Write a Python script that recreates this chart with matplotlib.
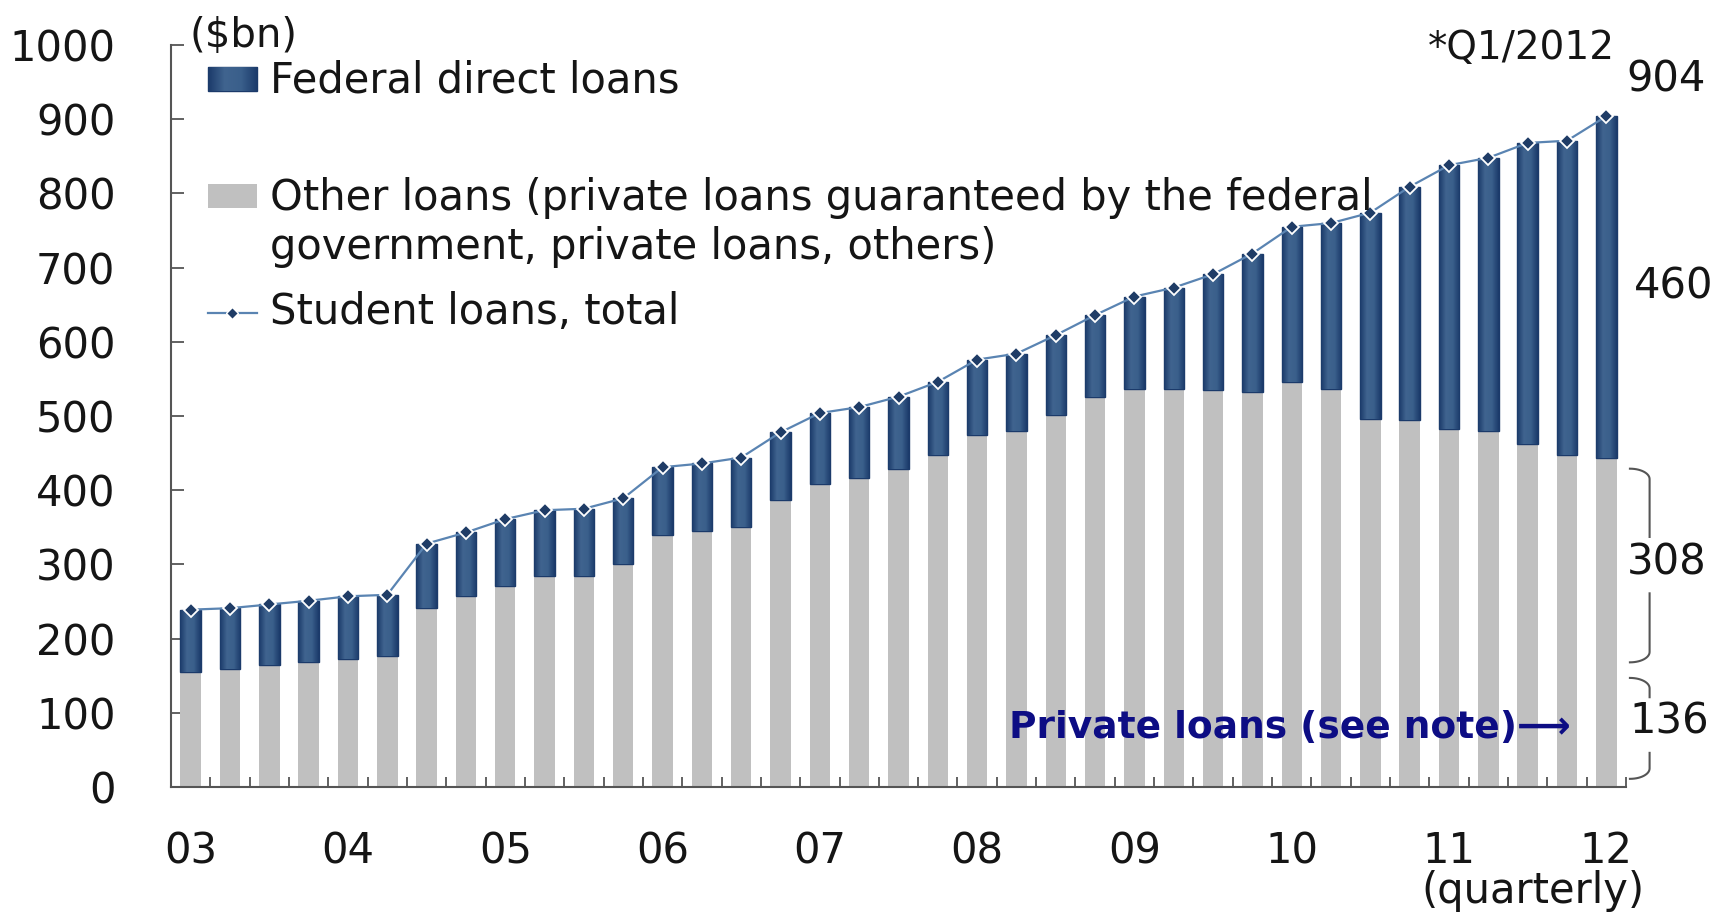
import matplotlib.pyplot as plt
import numpy as np
from matplotlib.patches import Rectangle
from matplotlib.lines import Line2D
from matplotlib.colors import LinearSegmentedColormap

# quarterly, Q1 2003 .. Q1 2012 ($bn)
year_labels = ["03", "04", "05", "06", "07", "08", "09", "10", "11", "12"]
other_loans = [155, 159, 164, 168, 172, 176, 241, 257, 271, 284, 284, 300,
               340, 345, 350, 387, 409, 416, 428, 447, 474, 480, 501, 526,
               537, 537, 535, 533, 546, 537, 496, 495, 482, 480, 462, 447, 444]
federal_direct = [84, 82, 82, 83, 85, 83, 87, 86, 90, 89, 91, 89,
                  91, 91, 94, 91, 95, 96, 98, 99, 102, 104, 108, 110,
                  124, 136, 156, 186, 209, 223, 278, 314, 356, 368, 406, 424, 460]
student_total = [239, 241, 246, 251, 257, 259, 328, 343, 361, 373, 375, 389,
                 431, 436, 444, 478, 504, 512, 526, 546, 576, 584, 609, 636,
                 661, 673, 691, 719, 755, 760, 774, 809, 838, 848, 868, 871, 904]
# split of the other loans in Q1/2012
guaranteed_2012 = 308
private_2012 = 136

plt.rcParams['font.family'] = ['DejaVu Sans']

blue = "#34598a"
blue_edge = "#1b3a6a"
gray = "#c0c0c0"
line_col = "#5a84b2"
txt = "#151515"
fs = 30

# bars have a light centre, dark sides
bar_cmap = LinearSegmentedColormap.from_list(
    "barfill", ["#1b3a6a", "#40648f", "#3a5f8b", "#1b3a6a"])
grad = np.linspace(0, 1, 64)[None, :]

fig = plt.figure(figsize=(17.29, 9.14), dpi=100)
ax = fig.add_axes([171/1729, 1-787/914, 1455/1729, 742/914])

x = np.arange(len(other_loans))
ax.bar(x, other_loans, width=0.52, color=gray, linewidth=0, zorder=2)
fed_bars = ax.bar(x, federal_direct, width=0.52, bottom=other_loans, color=blue,
                  edgecolor=blue_edge, linewidth=1.0, zorder=2)
for p in fed_bars:
    x0, y0 = p.get_xy()
    im = ax.imshow(grad, cmap=bar_cmap, aspect="auto", zorder=2.5,
                   extent=[x0, x0 + p.get_width(), y0, y0 + p.get_height()])
    im.set_clip_path(p)

ax.plot(x, student_total, color=line_col, lw=1.6, marker="D", ms=7,
        mfc="#1f3c66", mec="white", mew=1.3, zorder=4)

ax.set_xlim(-0.5, len(x) - 0.5)
ax.set_ylim(0, 1000)
for s in ["top", "right"]:
    ax.spines[s].set_visible(False)
for s in ["left", "bottom"]:
    ax.spines[s].set_color("#555555")
    ax.spines[s].set_linewidth(1.5)

ax.set_yticks(range(0, 1001, 100))
ax.tick_params(axis="y", direction="in", length=9, width=1.3, color="#555555",
               labelsize=fs, pad=40, labelcolor=txt)
ax.set_xticks(range(0, len(x), 4))
ax.set_xticklabels(year_labels)
ax.set_xticks(np.arange(0.5, len(x), 1), minor=True)
ax.tick_params(axis="x", which="major", length=0, labelsize=fs, pad=31, labelcolor=txt)
ax.tick_params(axis="x", which="minor", direction="in", length=7, width=1.3, color="#555555")

# legend drawn by hand
ax.text(-0.02, 1012, "($bn)", fontsize=29, color=txt, ha="left", va="center", clip_on=False)
leg_fed = Rectangle((0.43, 938), 1.25, 32, facecolor=blue, edgecolor=blue_edge, lw=1.0, zorder=5)
ax.add_patch(leg_fed)
im = ax.imshow(grad, cmap=bar_cmap, aspect="auto", zorder=5.5, extent=[0.43, 1.68, 938, 970])
im.set_clip_path(leg_fed)
ax.text(2.02, 952, "Federal direct loans", fontsize=fs, color=txt, va="center")
ax.add_patch(Rectangle((0.43, 780), 1.25, 32, facecolor=gray, lw=0, zorder=5))
ax.text(2.02, 761, "Other loans (private loans guaranteed by the federal\ngovernment, private loans, others)",
        fontsize=fs, color=txt, va="center", linespacing=1.22, zorder=5)
ax.add_line(Line2D([0.43, 1.68], [639, 639], color=line_col, lw=1.6))
ax.plot([1.05], [639], marker="D", ms=6, mfc="#1f3c66", mec="white", color=line_col)
ax.text(2.02, 640, "Student loans, total", fontsize=fs, color=txt, va="center")

ax.set_xlim(-0.5, len(x) - 0.5)
ax.set_ylim(0, 1000)

# annotations on the right
ax.text(36.22, 996, "*Q1/2012", fontsize=28, color=txt, ha="right", va="center")
ax.text(36.5, 953, str(student_total[-1]), fontsize=fs, color=txt, va="center", clip_on=False)
ax.text(36.7, 674, str(federal_direct[-1]), fontsize=fs, color=txt, va="center", clip_on=False)
ax.text(36.53, 303, str(guaranteed_2012), fontsize=fs, color=txt, va="center", clip_on=False)
ax.text(36.58, 88, str(private_2012), fontsize=fs, color=txt, va="center", clip_on=False)
ax.text(35.1, 80, "Private loans (see note)\u27f6", fontsize=27, fontweight="bold",
        color="#0d0d84", ha="right", va="center", zorder=5)
ax.text(34.14, -140, "(quarterly)", fontsize=fs, color=txt, ha="center", va="center", clip_on=False)


def brace(ax, y_top, y_mid1, y_mid2, y_bot, x0=36.6, x1=37.1, ry=14):
    t = np.linspace(0, np.pi / 2, 15)
    xs_top = x0 + (x1 - x0) * np.sin(t)
    ys_top = y_top - ry + ry * np.cos(t)
    ax.plot(np.r_[xs_top, x1], np.r_[ys_top, y_mid1], color="#555555", lw=1.5, clip_on=False)
    xs_bot = x0 + (x1 - x0) * np.sin(t)
    ys_bot = y_bot + ry - ry * np.cos(t)
    ax.plot(np.r_[x1, xs_bot[::-1]], np.r_[y_mid2, ys_bot[::-1]], color="#555555", lw=1.5, clip_on=False)


brace(ax, 429, 337, 261, 168)
brace(ax, 147, 121, 46, 11)

fig.savefig("out.png", dpi=100)
